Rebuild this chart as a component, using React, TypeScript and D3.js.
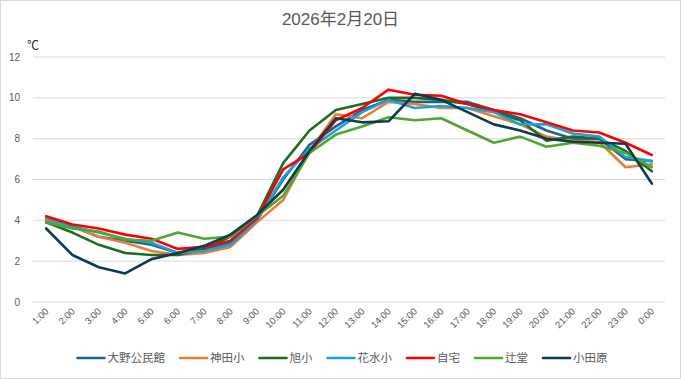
import React from "react";
import * as d3 from "d3";

const hours = ["1:00","2:00","3:00","4:00","5:00","6:00","7:00","8:00","9:00","10:00","11:00","12:00","13:00","14:00","15:00","16:00","17:00","18:00","19:00","20:00","21:00","22:00","23:00","0:00"];

const ohno = [4.1,3.7,3.2,3.0,2.8,2.4,2.6,2.9,4.0,6.0,7.7,8.6,9.4,9.9,9.8,9.8,9.8,9.4,9.0,8.4,8.0,8.0,7.0,6.9];
const kanda = [4.0,3.7,3.2,2.9,2.5,2.3,2.4,2.7,3.9,5.0,7.4,9.2,9.0,9.8,9.7,9.5,9.5,9.1,8.7,8.1,7.9,7.85,6.6,6.75];
const asahi = [3.9,3.4,2.8,2.4,2.3,2.3,2.6,3.2,4.2,6.8,8.4,9.4,9.7,10.0,10.0,9.9,9.7,9.3,8.9,7.9,8.1,8.0,7.4,6.4];
const hanamizu = [4.1,3.7,3.4,3.1,2.9,2.4,2.5,2.8,4.0,6.1,7.5,8.4,9.3,9.9,9.5,9.6,9.5,9.3,8.7,8.7,8.25,8.1,7.1,6.9];
const jitaku = [4.2,3.8,3.6,3.3,3.1,2.6,2.7,3.0,4.1,6.5,7.3,8.9,9.5,10.4,10.15,10.1,9.7,9.4,9.2,8.8,8.4,8.3,7.8,7.2];
const tsujido = [3.9,3.6,3.45,3.05,3.0,3.4,3.1,3.2,4.2,5.2,7.3,8.2,8.6,9.05,8.9,9.0,8.4,7.8,8.1,7.6,7.8,7.65,7.3,6.6];
const odawara = [3.6,2.3,1.7,1.4,2.1,2.4,2.75,3.3,4.25,5.5,7.4,9.0,8.8,8.85,10.2,9.9,9.3,8.7,8.4,8.0,7.85,7.8,7.75,5.8];

const seriesNames = ["大野公民館","神田小","旭小","花水小","自宅","辻堂","小田原"];
const seriesValues = [ohno, kanda, asahi, hanamizu, jitaku, tsujido, odawara];
const seriesColors = ["#1F6391","#ED7D31","#1E6B24","#18A3DC","#FF0000","#4EA72E","#0E3B50"];
const yTicks = [0,2,4,6,8,10,12];
const title = "2026年2月20日";
const unit = "℃";

const W = 681, H = 379;
const FONT = "'Liberation Sans', 'Noto Sans CJK JP', sans-serif";
const TXT = "#595959";

export default function App() {
  const x = d3.scaleBand<string>().domain(hours).range([33, 665]);
  const y = d3.scaleLinear().domain([0, 12]).range([302, 57]);
  const cx = (h: string) => (x(h) as number) + x.bandwidth() / 2;
  const line = d3.line<number>().x((_, i) => cx(hours[i])).y((d) => y(d));

  // legend layout
  const sample = 27, gap = 3, charW = 11.5, spacing = 15;
  const widths = seriesNames.map((n) => sample + gap + n.length * charW);
  const total = widths.reduce((a, b) => a + b, 0) + spacing * (widths.length - 1);
  let lx = W / 2 - total / 2 + 2;
  const legendItems = seriesNames.map((n, i) => {
    const item = { x: lx, name: n, color: seriesColors[i] };
    lx += widths[i] + spacing;
    return item;
  });

  return (
    <svg width={W} height={H} style={{ position: "fixed", left: 0, top: 0, fontFamily: FONT }}>
      <rect x={0.5} y={0.5} width={W - 1} height={H - 1} fill="#fff" stroke="#d9d9d9" />
      <text x={W / 2} y={25} textAnchor="middle" fontSize={17} fill={TXT}>{title}</text>
      <text x={27} y={50} fontSize={12} fill="#222">{unit}</text>
      {yTicks.map((t) => (
        <g key={t}>
          <line x1={33} x2={665} y1={y(t)} y2={y(t)} stroke="#d9d9d9" strokeWidth={1} />
          <text x={20} y={y(t) + 3.5} textAnchor="end" fontSize={10} fill={TXT}>{t}</text>
        </g>
      ))}
      {hours.map((h) => (
        <text key={h} transform={`translate(${cx(h) + 3},${312}) rotate(-45)`} textAnchor="end" fontSize={9.5} fill={TXT}>{h}</text>
      ))}
      {seriesValues.map((vals, i) => (
        <path key={i} d={line(vals) as string} fill="none" stroke={seriesColors[i]} strokeWidth={2.6} strokeLinejoin="round" strokeLinecap="round" />
      ))}
      {legendItems.map((it) => (
        <g key={it.name}>
          <line x1={it.x} x2={it.x + sample} y1={358} y2={358} stroke={it.color} strokeWidth={2.6} strokeLinecap="round" />
          <text x={it.x + sample + gap} y={362} fontSize={11.5} fill={TXT}>{it.name}</text>
        </g>
      ))}
    </svg>
  );
}
